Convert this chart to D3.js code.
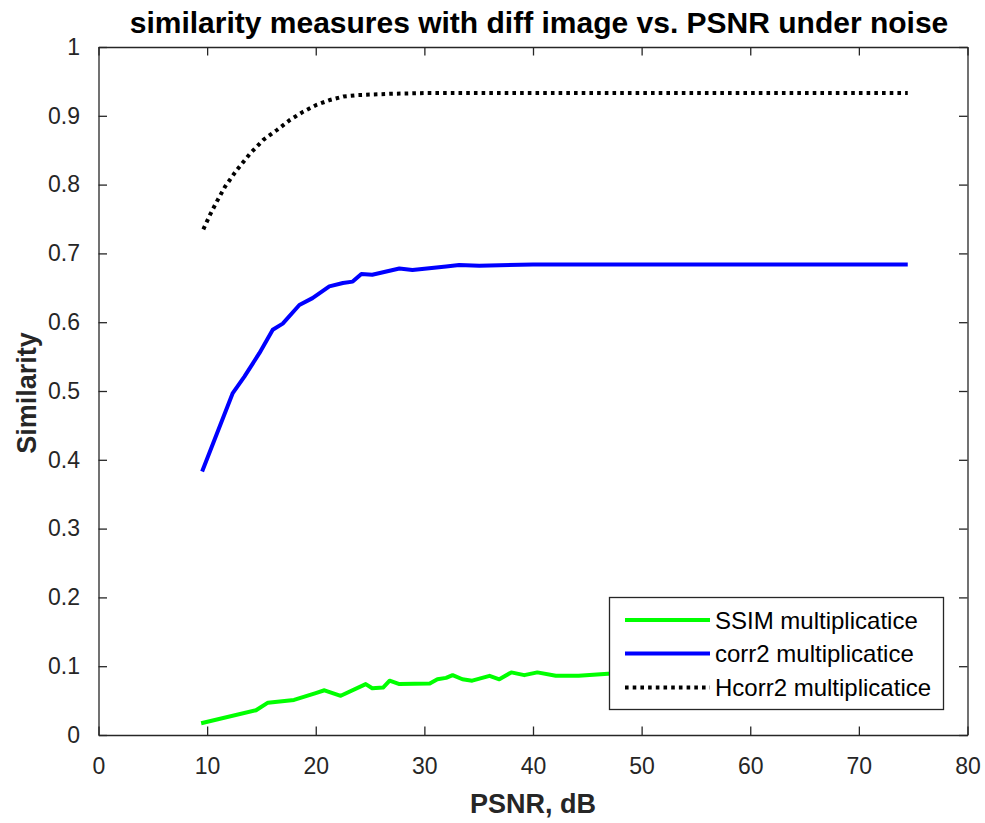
<!DOCTYPE html>
<html>
<head>
<meta charset="utf-8">
<script src="https://cdn.jsdelivr.net/npm/d3@7"></script>
<style>
  html, body { margin: 0; padding: 0; background: #fff; }
  svg { display: block; font-family: Arial, "Liberation Sans", Helvetica, sans-serif; }
</style>
</head>
<body>
<svg id="chart" width="985" height="823"></svg>
<script>
// ---- data ----
const title = "similarity measures with diff image vs. PSNR under noise";
const xLabel = "PSNR, dB";
const yLabel = "Similarity";
const xTicks = [0, 10, 20, 30, 40, 50, 60, 70, 80];
const yTicks = [0, 0.1, 0.2, 0.3, 0.4, 0.5, 0.6, 0.7, 0.8, 0.9, 1];

const ssimX = [9.45, 14.5, 15.6, 18.0, 20.0, 20.8, 22.3, 24.6, 25.2, 26.2, 26.8, 27.7, 30.5, 31.2, 32.0, 32.6, 33.5, 34.4, 36.0, 36.9, 38.0, 39.2, 40.4, 42.1, 44.2, 46.9, 50, 55, 60, 65, 70, 74.5];
const ssimY = [0.017, 0.036, 0.047, 0.051, 0.061, 0.065, 0.057, 0.074, 0.068, 0.069, 0.079, 0.074, 0.075, 0.081, 0.083, 0.087, 0.081, 0.079, 0.086, 0.081, 0.091, 0.087, 0.091, 0.086, 0.086, 0.089, 0.090, 0.090, 0.091, 0.091, 0.091, 0.091];

const corrX = [9.54, 12.36, 13.43, 14.81, 16.04, 16.96, 18.49, 19.7, 21.25, 22.5, 23.4, 24.2, 25.2, 27.7, 28.9, 32.0, 33.2, 35.05, 40, 50, 60, 70, 74.5];
const corrY = [0.383, 0.497, 0.521, 0.555, 0.589, 0.598, 0.625, 0.635, 0.652, 0.657, 0.659, 0.670, 0.669, 0.678, 0.676, 0.681, 0.683, 0.682, 0.684, 0.684, 0.684, 0.684, 0.684];

const hcorrX = [9.65, 10.26, 10.88, 11.65, 12.72, 13.95, 15.17, 16.40, 17.63, 18.85, 20.09, 21.31, 22.54, 23.77, 25.30, 26.84, 30, 40, 50, 60, 70, 74.5];
const hcorrY = [0.735, 0.756, 0.775, 0.797, 0.821, 0.845, 0.865, 0.879, 0.894, 0.906, 0.916, 0.923, 0.928, 0.930, 0.931, 0.932, 0.933, 0.933, 0.933, 0.933, 0.933, 0.933];

const seriesNames = ["SSIM multiplicatice", "corr2 multiplicatice", "Hcorr2 multiplicatice"];

// ---- layout ----
const svg = d3.select("#chart");
const mLeft = 98.5, mRight = 967.5, mTop = 47, mBottom = 735;
const x = d3.scaleLinear().domain([0, 80]).range([mLeft, mRight]);
const y = d3.scaleLinear().domain([0, 1]).range([mBottom, mTop]);
const axisColor = "#262626";

// series
const series = [
  { name: seriesNames[0], xs: ssimX, ys: ssimY, color: "#00ff00", dash: null },
  { name: seriesNames[1], xs: corrX, ys: corrY, color: "#0000ff", dash: null },
  { name: seriesNames[2], xs: hcorrX, ys: hcorrY, color: "#000000", dash: "3.6 4.1" }
];

const line = d3.line().x(d => x(d[0])).y(d => y(d[1]));

const plot = svg.append("g");
series.forEach(s => {
  const pts = s.xs.map((v, i) => [v, s.ys[i]]);
  plot.append("path")
    .attr("d", line(pts))
    .attr("fill", "none")
    .attr("stroke", s.color)
    .attr("stroke-width", 4)
    .attr("stroke-linejoin", "round")
    .attr("stroke-dasharray", s.dash);
});

// axes (box with ticks inside)
const tickLen = 8.5;
const fmtY = d => d === 0 ? "0" : d === 1 ? "1" : d3.format(".1f")(d);

const xAxisB = d3.axisBottom(x).tickValues(xTicks).tickSizeInner(-tickLen).tickSizeOuter(0).tickPadding(tickLen + 14);
const xAxisT = d3.axisTop(x).tickValues(xTicks).tickSizeInner(-tickLen).tickSizeOuter(0).tickFormat("");
const yAxisL = d3.axisLeft(y).tickValues(yTicks).tickSizeInner(-tickLen).tickSizeOuter(0).tickPadding(tickLen + 10).tickFormat(fmtY);
const yAxisR = d3.axisRight(y).tickValues(yTicks).tickSizeInner(-tickLen).tickSizeOuter(0).tickFormat("");

function style(g) {
  g.selectAll(".domain").attr("stroke", axisColor).attr("stroke-width", 1.3);
  g.selectAll(".tick line").attr("stroke", axisColor).attr("stroke-width", 1.3);
  g.selectAll(".tick text").attr("fill", axisColor).style("font-size", "23px")
    .style("font-family", "Arial, 'Liberation Sans', sans-serif");
}
svg.append("g").attr("transform", `translate(0,${mBottom})`).call(xAxisB).call(style);
svg.append("g").attr("transform", `translate(0,${mTop})`).call(xAxisT).call(style);
svg.append("g").attr("transform", `translate(${mLeft},0)`).call(yAxisL).call(style);
svg.append("g").attr("transform", `translate(${mRight},0)`).call(yAxisR).call(style);

// title and labels
svg.append("text")
  .attr("x", 539).attr("y", 33)
  .attr("text-anchor", "middle")
  .style("font-size", "30px").style("font-weight", "bold").attr("fill", "#000")
  .text(title);

svg.append("text")
  .attr("x", 533).attr("y", 813)
  .attr("text-anchor", "middle")
  .style("font-size", "27px").style("font-weight", "bold").attr("fill", axisColor)
  .text(xLabel);

svg.append("text")
  .attr("transform", `translate(36,${(mTop + mBottom) / 2 + 2}) rotate(-90)`)
  .attr("text-anchor", "middle")
  .style("font-size", "27px").style("font-weight", "bold").attr("fill", axisColor)
  .text(yLabel);

// legend
const lg = svg.append("g");
lg.append("rect")
  .attr("x", 609.5).attr("y", 597.5).attr("width", 334).attr("height", 112)
  .attr("fill", "#fff").attr("stroke", axisColor).attr("stroke-width", 1.3);
const rowY = [620, 653.5, 687.5];
series.forEach((s, i) => {
  lg.append("line")
    .attr("x1", 625).attr("x2", 710).attr("y1", rowY[i]).attr("y2", rowY[i])
    .attr("stroke", s.color).attr("stroke-width", 4)
    .attr("stroke-dasharray", s.dash);
  lg.append("text")
    .attr("x", 715).attr("y", rowY[i]).attr("dy", "0.36em")
    .style("font-size", "24px").attr("fill", "#000")
    .text(s.name);
});
</script>
</body>
</html>
